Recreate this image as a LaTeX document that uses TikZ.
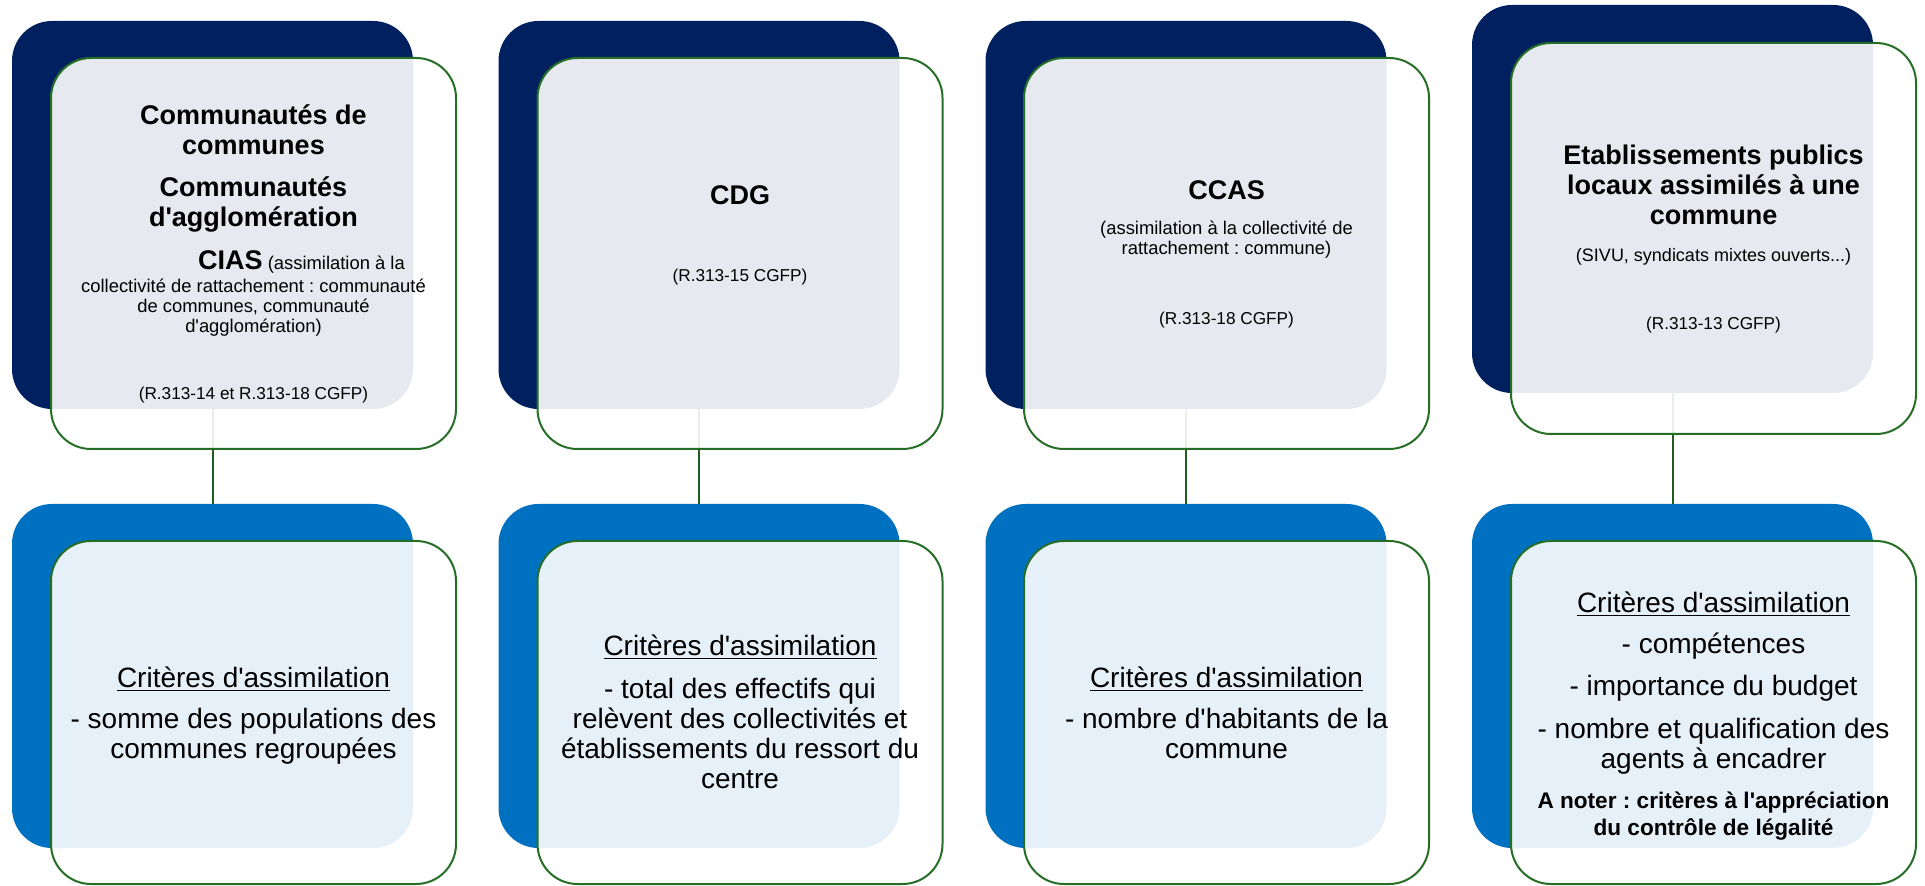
\documentclass[tikz,border=0pt]{standalone}
\usepackage{fontspec}
\setmainfont{Liberation Sans}[Ligatures=TeXOff]
\frenchspacing
\definecolor{navy}{RGB}{0,32,96}
\definecolor{midblue}{RGB}{0,112,192}
\definecolor{rimgreen}{RGB}{38,110,38}

\begin{document}
\begin{tikzpicture}[x=0.5pt, y=-0.5pt,
	backtop/.style = {fill=navy, rounded corners=20pt, inner sep=0pt, minimum width=200.5pt, minimum height=194pt},
	backbot/.style = {fill=midblue, rounded corners=20pt, inner sep=0pt, minimum width=200.5pt, minimum height=172pt},
	front/.style = {draw=rimgreen, line width=1pt, fill=white, fill opacity=0.9, rounded corners=20pt, inner sep=0pt, minimum width=202.5pt},
	link/.style = {draw=rimgreen!85!black, line width=1pt},
	head/.style = {font=\bfseries\fontsize{13.5}{15}\selectfont, align=center, anchor=base, inner sep=0pt},
	note/.style = {font=\fontsize{9.2}{10}\selectfont, align=center, anchor=base, inner sep=0pt},
	ref/.style = {font=\fontsize{8.6}{10}\selectfont, anchor=base, inner sep=0pt},
	crit/.style = {font=\fontsize{14}{15}\selectfont, align=center, anchor=base, inner sep=0pt}]

	\useasboundingbox (0,0) rectangle (1925,886);

	% back cards
	\node[backtop] (b1top) at (212.5,215) {};
	\node[backtop] (b2top) at (699,215) {};
	\node[backtop] (b3top) at (1186,215) {};
	\node[backtop] (b4top) at (1672.5,199) {};
	\node[backbot] (b1bot) at (212.5,676) {};
	\node[backbot] (b2bot) at (699,676) {};
	\node[backbot] (b3bot) at (1186,676) {};
	\node[backbot] (b4bot) at (1672.5,676) {};

	\draw[link] (b1top.south) -- (b1bot.north);
	\draw[link] (b2top.south) -- (b2bot.north);
	\draw[link] (b3top.south) -- (b3bot.north);
	\draw[link] (b4top.south) -- (b4bot.north);

	% front cards
	\node[front, minimum height=195.5pt] (f1top) at (253.5,253.5) {};
	\node[front, minimum height=195.5pt] (f2top) at (740,253.5) {};
	\node[front, minimum height=195.5pt] (f3top) at (1226.5,253.5) {};
	\node[front, minimum height=195.5pt] (f4top) at (1713.5,238.5) {};
	\node[front, minimum height=171.5pt] (f1bot) at (253.5,712.5) {};
	\node[front, minimum height=171.5pt] (f2bot) at (740,712.5) {};
	\node[front, minimum height=171.5pt] (f3bot) at (1226.5,712.5) {};
	\node[front, minimum height=171.5pt] (f4bot) at (1713.5,712.5) {};

	% texts of the top row (base = last line)
	\node[head] (t1a) at (253.5,155) {Communautés de\\communes};
	\node[head] (t1b) at (253.5,227) {Communautés\\d'agglomération};
	\node[note] (t1c) at (253.5,333) {\hspace*{48pt}{\bfseries\fontsize{13.5}{15}\selectfont CIAS} (assimilation à la\\[1.5pt]collectivité de rattachement : communauté\\de communes, communauté\\d'agglomération)};
	\node[ref] (t1r) at (253.5,400) {(R.313-14 et R.313-18 CGFP)};

	\node[head] (t2a) at (740,205) {CDG};
	\node[ref] (t2r) at (740,282) {(R.313-15 CGFP)};

	\node[head] (t3a) at (1226.5,200) {CCAS};
	\node[note] (t3b) at (1226.5,255) {(assimilation à la collectivité de\\rattachement : commune)};
	\node[ref] (t3r) at (1226.5,325) {(R.313-18 CGFP)};

	\node[head] (t4a) at (1713.5,225) {Etablissements publics\\locaux assimilés à une\\commune};
	\node[note, font=\fontsize{9}{10}\selectfont] (t4b) at (1713.5,262) {(SIVU, syndicats mixtes ouverts...)};
	\node[ref] (t4r) at (1713.5,330) {(R.313-13 CGFP)};

	% texts of the bottom row
	\node[crit] (c1) at (253.5,758) {\underline{Critères d'assimilation}\\[5.5pt]- somme des populations des\\communes regroupées};
	\node[crit] (c2) at (740,788) {\underline{Critères d'assimilation}\\[6.5pt]- total des effectifs qui\\relèvent des collectivités et\\établissements du ressort du\\centre};
	\node[crit] (c3) at (1226.5,758) {\underline{Critères d'assimilation}\\[5.5pt]- nombre d'habitants de la\\commune};
	\node[crit] (c4) at (1713.5,768) {\underline{Critères d'assimilation}\\[5.5pt]- compétences\\[6pt]- importance du budget\\[6.5pt]- nombre et qualification des\\agents à encadrer};
	\node[head, font=\bfseries\fontsize{11.3}{13.5}\selectfont] (c4n) at (1713.5,835) {A noter : critères à l'appréciation\\du contrôle de légalité};

\end{tikzpicture}
\end{document}
